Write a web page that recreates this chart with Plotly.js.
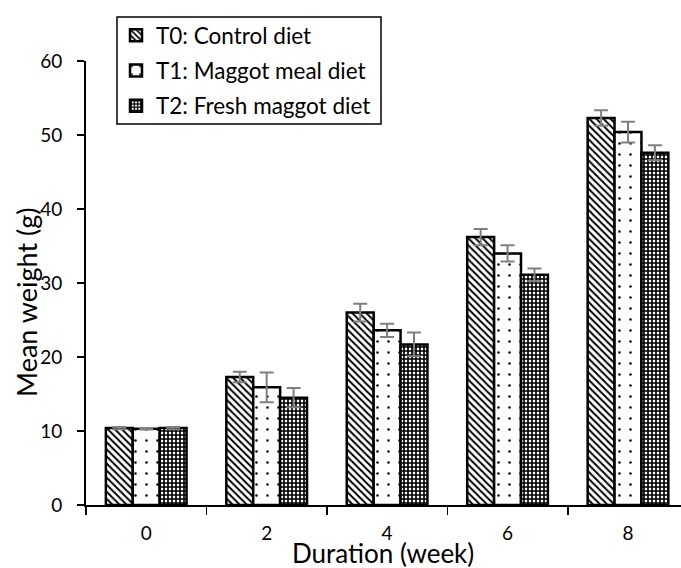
<!DOCTYPE html>
<html>
<head>
<meta charset="utf-8">
<script src="https://cdn.plot.ly/plotly-3.0.1.min.js"></script>
<style>html,body{margin:0;padding:0;background:#fff;}#chart{width:681px;height:568px;}</style>
</head>
<body>
<div id="chart"></div>
<script>
// Data
const weeks = ['0', '2', '4', '6', '8'];
const seriesNames = ['T0: Control diet', 'T1: Maggot meal diet', 'T2: Fresh maggot diet'];
const t0 = [10.4, 17.3, 26.0, 36.2, 52.3];
const t0err = [0.15, 0.7, 1.2, 1.1, 1.05];
const t1 = [10.3, 15.9, 23.6, 34.0, 50.4];
const t1err = [0.1, 2.0, 0.9, 1.1, 1.4];
const t2 = [10.4, 14.5, 21.7, 31.1, 47.6];
const t2err = [0.15, 1.3, 1.6, 0.85, 1.0];
const yTicks = [0, 10, 20, 30, 40, 50, 60];

const FONT = 'Lato, "Open Sans", sans-serif';
const errStyle = {type: 'data', color: '#808080', thickness: 2, width: 7, visible: true};
const lineStyle = {color: '#000', width: 2.5};

function bar(name, y, err, pattern, group) {
  return {
    type: 'bar', name: name, x: weeks, y: y,
    legendgroup: group,
    error_y: Object.assign({array: err}, errStyle),
    marker: {color: '#fff', line: lineStyle, pattern: pattern},
    hoverinfo: 'skip'
  };
}

const traces = [
  bar(seriesNames[0], t0, t0err, {shape: '\\', fgcolor: '#000', bgcolor: '#fff', size: 5, solidity: 0.4, fillmode: 'replace'}, 'g0'),
  bar(seriesNames[1], t1, t1err, {shape: '.', fgcolor: '#000', bgcolor: '#fff', size: 11, solidity: 0.04, fillmode: 'replace'}, 'g1'),
  bar(seriesNames[2], t2, t2err, {shape: '+', fgcolor: '#000', bgcolor: '#fff', size: 4, solidity: 0.65, fillmode: 'replace'}, 'g2')
];

const L = 86, R = 0, T = 61, B = 63;
const W = 681 - L - R, H = 568 - T - B;
const px2x = p => (p - L) / W;
const px2y = p => (568 - B - p) / H;

const layout = {
  width: 681, height: 568,
  margin: {l: L, r: R, t: T, b: B, pad: 0},
  paper_bgcolor: '#fff', plot_bgcolor: 'rgba(0,0,0,0)',
  font: {family: FONT, size: 18, color: '#000'},
  barmode: 'group', bargap: 0.33, bargroupgap: 0,
  showlegend: true,
  legend: {
    x: px2x(116), y: px2y(14), xanchor: 'left', yanchor: 'top',
    borderwidth: 0, bgcolor: 'rgba(0,0,0,0)',
    font: {family: FONT, size: 22.5, color: '#000'},
    traceorder: 'grouped', tracegroupgap: 3
  },
  shapes: [
    {type: 'rect', xref: 'paper', yref: 'paper',
     x0: px2x(117), x1: px2x(381), y0: px2y(124), y1: px2y(17),
     line: {color: '#000', width: 1.5}, fillcolor: 'rgba(0,0,0,0)', layer: 'above'}
  ],
  xaxis: {
    type: 'category', range: [-0.5, 4.44],
    showline: true, linecolor: '#000', linewidth: 2,
    ticks: 'outside', tickson: 'boundaries', ticklen: 8, tickwidth: 1.5, tickcolor: '#000',
    showgrid: false, zeroline: false,
    tickfont: {family: FONT, size: 19, color: '#000'},
    ticklabelstandoff: 10
  },
  xaxis2: {
    overlaying: 'x', anchor: 'y', type: 'linear', range: [-0.5, 4.44],
    tickvals: [-0.5, 0.5, 1.5, 2.5, 3.5], ticks: 'inside', ticklen: 5, tickwidth: 1.5, tickcolor: '#000',
    showticklabels: false, showline: false, showgrid: false, zeroline: false
  },
  yaxis: {
    range: [0, 60], tickvals: yTicks,
    showline: true, linecolor: '#000', linewidth: 2,
    ticks: 'outside', ticklen: 7, tickwidth: 1.5, tickcolor: '#000',
    showgrid: false, zeroline: false,
    tickfont: {family: FONT, size: 19, color: '#000'},
    ticklabelstandoff: 11
  },
  yaxis2: {
    overlaying: 'y', anchor: 'x', range: [0, 60], tickvals: yTicks,
    ticks: 'inside', ticklen: 7, tickwidth: 1.5, tickcolor: '#000',
    showticklabels: false, showline: false, showgrid: false, zeroline: false
  },
  annotations: [
    {text: 'Mean weight (g)', xref: 'paper', yref: 'paper', x: px2x(26), y: px2y(303),
     textangle: -90, showarrow: false, xanchor: 'center', yanchor: 'middle',
     font: {family: FONT, size: 27, color: '#000'}},
    {text: 'Duration (week)', xref: 'paper', yref: 'paper', x: px2x(383), y: px2y(553),
     showarrow: false, xanchor: 'center', yanchor: 'middle',
     font: {family: FONT, size: 26, color: '#000'}}
  ]
};

Plotly.newPlot('chart', traces, layout, {displayModeBar: false, staticPlot: true});
</script>
</body>
</html>
